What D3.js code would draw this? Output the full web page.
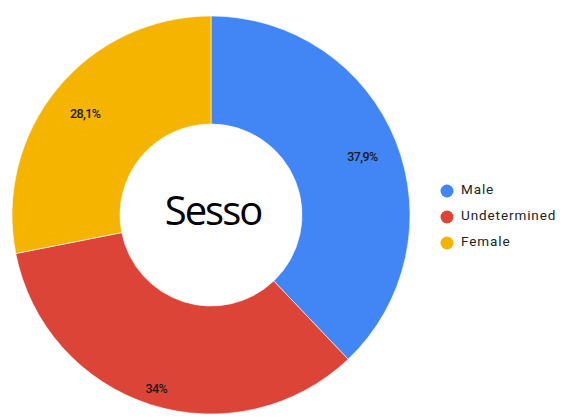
<!DOCTYPE html>
<html>
<head>
<meta charset="utf-8">
<script src="https://cdn.jsdelivr.net/npm/d3@7"></script>
<style>
  body { margin: 0; background: #fff; }
</style>
</head>
<body>
<div id="chart"></div>
<script>
// chart data
var categories = ["Male", "Undetermined", "Female"]
var values = [37.9, 34, 28.1]
var valueLabels = ["37,9%", "34%", "28,1%"]
var colors = ["#4285f4", "#db4437", "#f4b400"]
var centerTitle = "Sesso"

var width = 566
var height = 417
var cx = 211
var cy = 215
var outerR = 199
var innerR = 91
var labelR = 163

var svg = d3.select("#chart").append("svg")
  .attr("width", width)
  .attr("height", height)

var g = svg.append("g")
  .attr("transform", `translate(${cx},${cy})`)

var pie = d3.pie().sort(null).value(d => d)
var arcs = pie(values)

var arc = d3.arc().innerRadius(innerR).outerRadius(outerR)

// labels near the bottom sit a little further out
function labelPos(d){
  var a = (d.startAngle + d.endAngle) / 2
  var r = labelR + 18 * Math.max(0, -Math.cos(a))
  return [r * Math.sin(a), -r * Math.cos(a)]
}

g.selectAll("path.slice")
  .data(arcs)
  .enter().append("path")
  .attr("class", "slice")
  .attr("d", arc)
  .style("fill", (d, i) => colors[i])
  .style("stroke", "#fff")
  .style("stroke-width", 0.6)

g.selectAll("text.pct")
  .data(arcs)
  .enter().append("text")
  .attr("class", "pct")
  .attr("transform", d => `translate(${labelPos(d)})`)
  .attr("text-anchor", "middle")
  .attr("dy", "0.5em")
  .style("font-family", "Roboto, 'Liberation Sans', sans-serif")
  .style("font-size", "12.5px")
  .style("font-weight", 500)
  .style("letter-spacing", "-0.6px")
  .style("fill", "#1a1a1a")
  .text((d, i) => valueLabels[i])

// title in the hole
g.append("text")
  .attr("text-anchor", "middle")
  .attr("x", 2)
  .attr("y", 10)
  .style("font-family", "'Open Sans', 'DejaVu Sans', sans-serif")
  .style("font-size", "40px")
  .style("letter-spacing", "-2px")
  .style("fill", "#000")
  .text(centerTitle)

// legend
var legend = svg.append("g")
  .attr("transform", "translate(447,191)")

var items = legend.selectAll("g")
  .data(categories)
  .enter().append("g")
  .attr("transform", (d, i) => `translate(0,${i * 26})`)

items.append("circle")
  .attr("r", 6.5)
  .style("fill", (d, i) => colors[i])

items.append("text")
  .attr("x", 14)
  .attr("dy", "0.35em")
  .attr("y", -2)
  .style("font-family", "Roboto, 'Liberation Sans', sans-serif")
  .style("font-size", "13.5px")
  .style("letter-spacing", "0.9px")
  .style("fill", "#222")
  .text(d => d)
</script>
</body>
</html>
